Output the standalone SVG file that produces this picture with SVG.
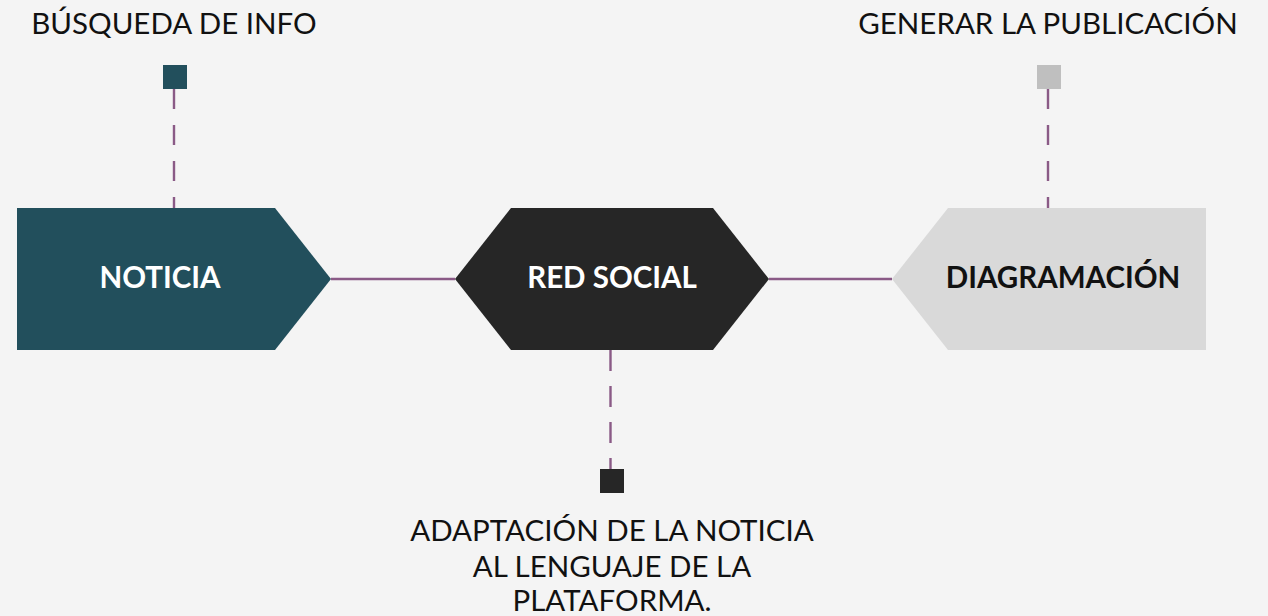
<svg xmlns="http://www.w3.org/2000/svg" width="1268" height="616" viewBox="0 0 1268 616">
<style>
.lbl{font-family:Lato,"Open Sans","Liberation Sans",sans-serif;font-size:29.5px;fill:#111;text-anchor:middle}
.nl{font-family:Lato,"Open Sans","Liberation Sans",sans-serif;font-size:29.5px;font-weight:bold;text-anchor:middle}
.conn{stroke:#8a5a86;stroke-width:2.4;fill:none}
.dash{stroke-dasharray:20 16}
</style>
<rect width="1268" height="616" fill="#f4f4f4"/>
<g id="connectors">
<line class="conn" x1="331" y1="279" x2="455" y2="279"/>
<line class="conn" x1="769" y1="279" x2="892" y2="279"/>
<line class="conn dash" x1="174" y1="89" x2="174" y2="208"/>
<line class="conn dash" x1="1048" y1="89" x2="1048" y2="208"/>
<line class="conn" stroke-dasharray="21 15" x1="610.5" y1="350" x2="610.5" y2="469"/>
</g>
<g id="noticia">
<polygon points="17,208 275,208 331,279 275,350 17,350" fill="#224f5c"/>
<text class="nl" x="160" y="288" fill="#fff">NOTICIA</text>
</g>
<g id="red-social">
<polygon points="455,279 511,208 713,208 769,279 713,350 511,350" fill="#262626"/>
<text class="nl" x="612" y="288" fill="#fff">RED SOCIAL</text>
</g>
<g id="diagramacion">
<polygon points="892,279 948,208 1206,208 1206,350 948,350" fill="#d9d9d9"/>
<text class="nl" x="1063" y="288" fill="#111">DIAGRAMACIÓN</text>
</g>
<g id="busqueda">
<rect x="163" y="65" width="24" height="24" fill="#224f5c"/>
<text class="lbl" x="174" y="34">BÚSQUEDA DE INFO</text>
</g>
<g id="generar">
<rect x="1037" y="65" width="24" height="24" fill="#bfbfbf"/>
<text class="lbl" x="1048" y="34">GENERAR LA PUBLICACIÓN</text>
</g>
<g id="adaptacion">
<rect x="600" y="469" width="24" height="24" fill="#262626"/>
<text class="lbl" x="612" y="541">ADAPTACIÓN DE LA NOTICIA</text>
<text class="lbl" x="612" y="577">AL LENGUAJE DE LA</text>
<text class="lbl" x="612" y="611">PLATAFORMA.</text>
</g>
</svg>
